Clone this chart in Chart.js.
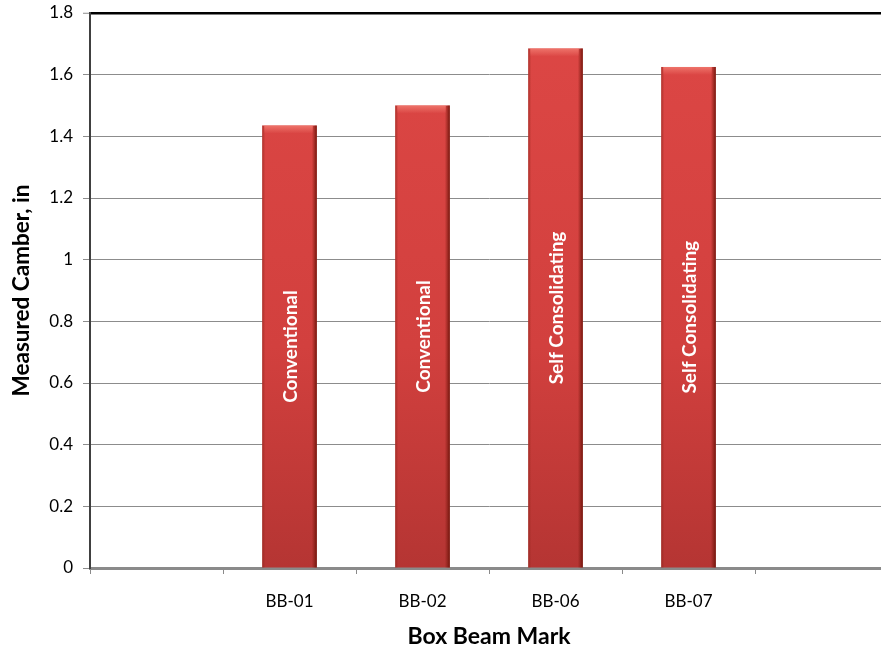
<!DOCTYPE html>
<html>
<head>
<meta charset="utf-8">
<script src="https://cdn.jsdelivr.net/npm/chart.js@4/dist/chart.umd.min.js"></script>
<style>
  html, body { margin: 0; padding: 0; background: #ffffff; overflow: hidden; }
  #wrap { width: 881px; height: 652px; overflow: hidden; }
  canvas { display: block; }
</style>
</head>
<body>
<div id="wrap"><canvas id="chart" width="900" height="652"></canvas></div>
<script>
// Box beam camber measurements
const categories = ['', 'BB-01', 'BB-02', 'BB-06', 'BB-07', ''];
const camber = [null, 1.435, 1.50, 1.685, 1.625, null];
const concreteType = ['', 'Conventional', 'Conventional', 'Self Consolidating', 'Self Consolidating', ''];
const yTickValues = [0, 0.2, 0.4, 0.6, 0.8, 1, 1.2, 1.4, 1.6, 1.8];
const yTickLabels = ['0', '0.2', '0.4', '0.6', '0.8', '1', '1.2', '1.4', '1.6', '1.8'];

const FONT = 'Lato, "Open Sans", sans-serif';

// Vertical fill for each bar column
function barFill(ctx) {
  const chart = ctx.chart;
  const area = chart.chartArea;
  if (!area) return '#d44240';
  const g = chart.ctx.createLinearGradient(0, area.top, 0, area.bottom);
  g.addColorStop(0, '#dd4745');
  g.addColorStop(0.6, '#d2403e');
  g.addColorStop(1, '#b53533');
  return g;
}

// Bevel shading on bars and rotated type labels inside them
const barDecor = {
  id: 'barDecor',
  afterDatasetsDraw(chart) {
    const ctx = chart.ctx;
    const meta = chart.getDatasetMeta(0);
    meta.data.forEach((bar, i) => {
      if (camber[i] == null) return;
      const { x, y, base, width } = bar.getProps(['x', 'y', 'base', 'width'], true);
      const left = x - width / 2, right = x + width / 2;
      ctx.save();
      // right edge shadow
      let g = ctx.createLinearGradient(right - 5, 0, right, 0);
      g.addColorStop(0, 'rgba(120,25,15,0)');
      g.addColorStop(1, 'rgba(110,20,10,0.95)');
      ctx.fillStyle = g;
      ctx.fillRect(right - 5, y, 5, base - y);
      // left edge shade
      g = ctx.createLinearGradient(left, 0, left + 3, 0);
      g.addColorStop(0, 'rgba(140,35,25,0.6)');
      g.addColorStop(1, 'rgba(140,35,25,0)');
      ctx.fillStyle = g;
      ctx.fillRect(left, y, 3, base - y);
      // top highlight
      g = ctx.createLinearGradient(0, y, 0, y + 8);
      g.addColorStop(0, 'rgba(240,120,110,0.9)');
      g.addColorStop(1, 'rgba(240,120,110,0)');
      ctx.fillStyle = g;
      ctx.fillRect(left + 2, y, width - 6, 8);
      // label
      ctx.translate(x, (y + base) / 2);
      ctx.rotate(-Math.PI / 2);
      ctx.fillStyle = '#ffffff';
      ctx.font = 'bold 19px ' + FONT;
      ctx.textAlign = 'center';
      ctx.textBaseline = 'middle';
      ctx.fillText(concreteType[i], 0, 1);
      ctx.restore();
    });
  }
};

new Chart(document.getElementById('chart'), {
  type: 'bar',
  data: {
    labels: categories,
    datasets: [{
      data: camber,
      backgroundColor: barFill,
      borderWidth: 0,
      categoryPercentage: 1,
      barPercentage: 0.41
    }]
  },
  options: {
    responsive: false,
    animation: false,
    layout: { padding: { top: 13, right: 12, bottom: 0, left: 0 } },
    plugins: { legend: { display: false }, tooltip: { enabled: false } },
    scales: {
      x: {
        afterFit(scale) {
          scale.height = 84;
          scale.paddingLeft = 0;
          scale.paddingRight = 0;
        },
        grid: {
          offset: true,
          drawOnChartArea: false,
          tickLength: 6,
          tickColor: '#8a8a8a',
          tickWidth: 1
        },
        border: { color: '#8a8a8a', width: 3 },
        ticks: {
          color: '#000000',
          font: { family: FONT, size: 17 },
          padding: 17,
          maxRotation: 0
        },
        title: {
          display: true,
          text: 'Box Beam Mark',
          color: '#000000',
          font: { family: FONT, size: 23, weight: 'bold' },
          padding: { top: 0, bottom: 2 }
        }
      },
      y: {
        min: 0,
        max: 1.8,
        afterFit(scale) {
          scale.width = 90;
          scale.paddingTop = 0;
          scale.paddingBottom = 0;
        },
        afterBuildTicks(scale) { scale.ticks = yTickValues.map(v => ({ value: v })); },
        grid: {
          color: (c) => (c.tick && c.tick.value === 1.8 ? '#000000' : '#8c8c8c'),
          lineWidth: (c) => (c.tick && c.tick.value === 1.8 ? 2.5 : 1),
          tickLength: 7,
          tickColor: '#8c8c8c',
          tickWidth: 1
        },
        border: { color: '#404040', width: 2 },
        ticks: {
          color: '#000000',
          font: { family: FONT, size: 17 },
          padding: 10,
          callback: (v) => {
            const i = yTickValues.findIndex(t => Math.abs(t - v) < 1e-9);
            return i >= 0 ? yTickLabels[i] : '';
          }
        },
        title: {
          display: true,
          text: 'Measured Camber, in',
          color: '#000000',
          font: { family: FONT, size: 22.5, weight: 'bold' },
          padding: { top: 8, bottom: 0 }
        }
      }
    }
  },
  plugins: [barDecor]
});
</script>
</body>
</html>
